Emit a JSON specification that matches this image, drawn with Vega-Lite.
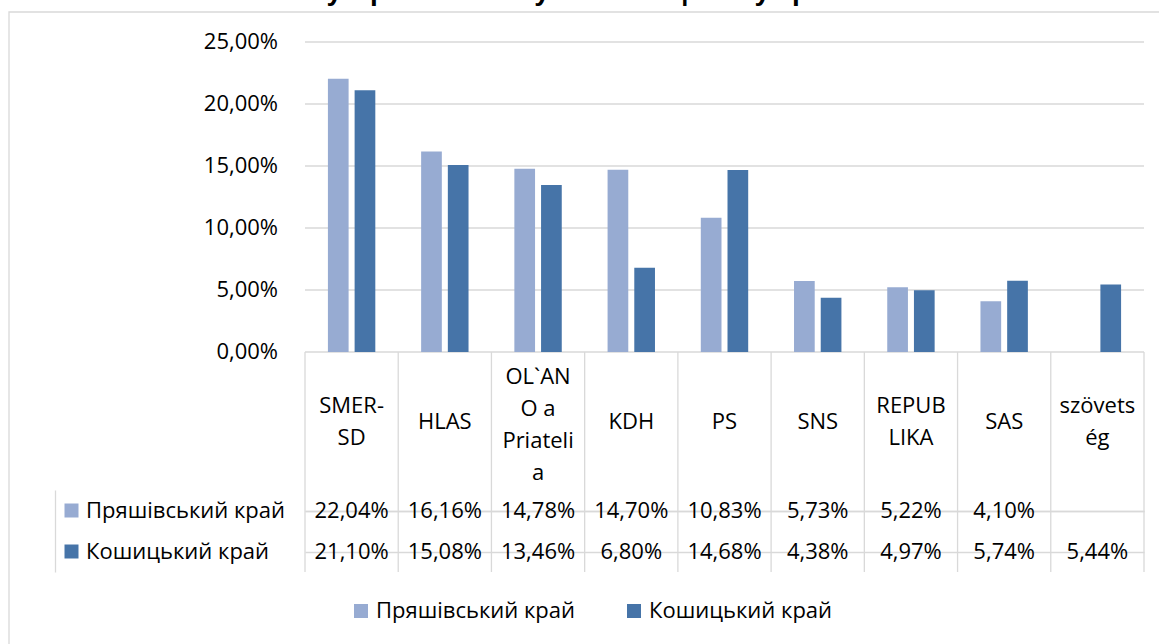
{
  "$schema": "https://vega.github.io/schema/vega-lite/v6.json",
  "width": 1089,
  "height": 220,
  "autosize": {"type": "none"},
  "padding": {"left": 55, "top": 352, "right": 15, "bottom": 72},
  "background": "white",
  "config": {
    "view": {"stroke": null},
    "font": "Open Sans",
    "locale": {"number": {"decimal": ",", "thousands": " ", "grouping": [3], "currency": ["", ""]}},
    "axisX": {
      "orient": "top", "title": null, "domain": false, "ticks": false, "tickSize": 0,
      "labelBaseline": "middle", "labelAlign": "center", "labelAngle": 0,
      "labelFont": "Open Sans", "labelFontSize": 22, "labelColor": "#000000", "labelLineHeight": 32,
      "labelLimit": 0, "labelOverlap": false, "labelBound": false, "grid": false
    }
  },
  "title": {
    "text": "у Пряшівському та Кошицькому краях",
    "font": "Liberation Sans",
    "fontWeight": "bold",
    "fontSize": 28,
    "color": "#000000",
    "anchor": "middle",
    "frame": "group",
    "baseline": "alphabetic",
    "offset": -17,
    "dx": -8
  },
  "datasets": {
    "votes": [
      {"party": "SMER-SD", "series": "Пряшівський край", "value": 0.2204},
      {"party": "HLAS", "series": "Пряшівський край", "value": 0.1616},
      {"party": "OL`ANO a Priatelia", "series": "Пряшівський край", "value": 0.1478},
      {"party": "KDH", "series": "Пряшівський край", "value": 0.1470},
      {"party": "PS", "series": "Пряшівський край", "value": 0.1083},
      {"party": "SNS", "series": "Пряшівський край", "value": 0.0573},
      {"party": "REPUBLIKA", "series": "Пряшівський край", "value": 0.0522},
      {"party": "SAS", "series": "Пряшівський край", "value": 0.0410},
      {"party": "SMER-SD", "series": "Кошицький край", "value": 0.2110},
      {"party": "HLAS", "series": "Кошицький край", "value": 0.1508},
      {"party": "OL`ANO a Priatelia", "series": "Кошицький край", "value": 0.1346},
      {"party": "KDH", "series": "Кошицький край", "value": 0.0680},
      {"party": "PS", "series": "Кошицький край", "value": 0.1468},
      {"party": "SNS", "series": "Кошицький край", "value": 0.0438},
      {"party": "REPUBLIKA", "series": "Кошицький край", "value": 0.0497},
      {"party": "SAS", "series": "Кошицький край", "value": 0.0574},
      {"party": "szövetség", "series": "Кошицький край", "value": 0.0544}
    ],
    "ticks": [{"v": 0}, {"v": 0.05}, {"v": 0.1}, {"v": 0.15}, {"v": 0.2}, {"v": 0.25}],
    "seriesList": [{"series": "Пряшівський край"}, {"series": "Кошицький край"}],
    "parties": [{"party": "SMER-SD"}, {"party": "HLAS"}, {"party": "OL`ANO a Priatelia"}, {"party": "KDH"}, {"party": "PS"}, {"party": "SNS"}, {"party": "REPUBLIKA"}, {"party": "SAS"}, {"party": "szövetség"}]
  },
  "layer": [
    {
      "layer": [
        {
          "data": {"values": [{"frame": "chart area"}]},
          "mark": {"type": "rect", "filled": false, "fill": null, "stroke": "#d9d9d9", "strokeWidth": 1.3,
                   "xOffset": -296, "x2Offset": 30, "yOffset": -30, "y2Offset": 310},
          "encoding": {
            "x": {"datum": "SMER-SD", "type": "nominal", "bandPosition": 0,
                  "axis": {"labelExpr": "datum.value == 'SMER-SD' ? ['SMER-', 'SD'] : datum.value == 'OL`ANO a Priatelia' ? ['OL`AN', 'O a', 'Priateli', 'a'] : datum.value == 'REPUBLIKA' ? ['REPUB', 'LIKA'] : datum.value == 'szövetség' ? ['szövets', 'ég'] : datum.label",
                           "labelPadding": {"condition": [{"test": "datum.value == 'OL`ANO a Priatelia'", "value": -24}, {"test": "datum.value == 'SMER-SD' || datum.value == 'REPUBLIKA' || datum.value == 'szövetség'", "value": -53}], "value": -69}},
                  "scale": {"domain": ["SMER-SD", "HLAS", "OL`ANO a Priatelia", "KDH", "PS", "SNS", "REPUBLIKA", "SAS", "szövetség"], "range": [250, 1089], "paddingInner": 0, "paddingOuter": 0}},
            "x2": {"datum": "szövetség", "bandPosition": 1},
            "y": {"datum": 0.25, "type": "quantitative", "axis": null,
                  "scale": {"domain": [0, 0.25], "range": [0, -310], "nice": false, "zero": true}},
            "y2": {"datum": 0}
          }
        },
        {
          "data": {"name": "ticks"},
          "mark": {"type": "rule", "color": "#d9d9d9", "strokeWidth": 1.3},
          "encoding": {
            "x": {"datum": "SMER-SD", "type": "nominal", "bandPosition": 0,
                  "axis": {"labelExpr": "datum.value == 'SMER-SD' ? ['SMER-', 'SD'] : datum.value == 'OL`ANO a Priatelia' ? ['OL`AN', 'O a', 'Priateli', 'a'] : datum.value == 'REPUBLIKA' ? ['REPUB', 'LIKA'] : datum.value == 'szövetség' ? ['szövets', 'ég'] : datum.label",
                           "labelPadding": {"condition": [{"test": "datum.value == 'OL`ANO a Priatelia'", "value": -24}, {"test": "datum.value == 'SMER-SD' || datum.value == 'REPUBLIKA' || datum.value == 'szövetség'", "value": -53}], "value": -69}},
                  "scale": {"domain": ["SMER-SD", "HLAS", "OL`ANO a Priatelia", "KDH", "PS", "SNS", "REPUBLIKA", "SAS", "szövetség"], "range": [250, 1089], "paddingInner": 0, "paddingOuter": 0}},
            "x2": {"datum": "szövetség", "bandPosition": 1},
            "y": {"field": "v", "type": "quantitative", "axis": null,
                  "scale": {"domain": [0, 0.25], "range": [0, -310], "nice": false, "zero": true}}
          }
        },
        {
          "data": {"name": "parties"},
          "mark": {"type": "rule", "color": "#d9d9d9", "strokeWidth": 1.3},
          "encoding": {
            "x": {"field": "party", "type": "nominal", "bandPosition": 0,
                  "axis": {"labelExpr": "datum.value == 'SMER-SD' ? ['SMER-', 'SD'] : datum.value == 'OL`ANO a Priatelia' ? ['OL`AN', 'O a', 'Priateli', 'a'] : datum.value == 'REPUBLIKA' ? ['REPUB', 'LIKA'] : datum.value == 'szövetség' ? ['szövets', 'ég'] : datum.label",
                           "labelPadding": {"condition": [{"test": "datum.value == 'OL`ANO a Priatelia'", "value": -24}, {"test": "datum.value == 'SMER-SD' || datum.value == 'REPUBLIKA' || datum.value == 'szövetség'", "value": -53}], "value": -69}},
                  "scale": {"domain": ["SMER-SD", "HLAS", "OL`ANO a Priatelia", "KDH", "PS", "SNS", "REPUBLIKA", "SAS", "szövetség"], "range": [250, 1089], "paddingInner": 0, "paddingOuter": 0}}
          }
        },
        {
          "data": {"name": "parties"},
          "transform": [{"filter": "datum.party == 'szövetség'"}],
          "mark": {"type": "rule", "color": "#d9d9d9", "strokeWidth": 1.3},
          "encoding": {
            "x": {"field": "party", "type": "nominal", "bandPosition": 1,
                  "axis": {"labelExpr": "datum.value == 'SMER-SD' ? ['SMER-', 'SD'] : datum.value == 'OL`ANO a Priatelia' ? ['OL`AN', 'O a', 'Priateli', 'a'] : datum.value == 'REPUBLIKA' ? ['REPUB', 'LIKA'] : datum.value == 'szövetség' ? ['szövets', 'ég'] : datum.label",
                           "labelPadding": {"condition": [{"test": "datum.value == 'OL`ANO a Priatelia'", "value": -24}, {"test": "datum.value == 'SMER-SD' || datum.value == 'REPUBLIKA' || datum.value == 'szövetség'", "value": -53}], "value": -69}},
                  "scale": {"domain": ["SMER-SD", "HLAS", "OL`ANO a Priatelia", "KDH", "PS", "SNS", "REPUBLIKA", "SAS", "szövetség"], "range": [250, 1089], "paddingInner": 0, "paddingOuter": 0}}
          }
        },
        {
          "data": {"name": "votes"},
          "mark": {"type": "bar"},
          "encoding": {
            "x": {"field": "party", "type": "nominal",
                  "scale": {"domain": ["SMER-SD", "HLAS", "OL`ANO a Priatelia", "KDH", "PS", "SNS", "REPUBLIKA", "SAS", "szövetség"], "range": [250, 1089], "paddingInner": 0, "paddingOuter": 0},
                  "axis": {"labelExpr": "datum.value == 'SMER-SD' ? ['SMER-', 'SD'] : datum.value == 'OL`ANO a Priatelia' ? ['OL`AN', 'O a', 'Priateli', 'a'] : datum.value == 'REPUBLIKA' ? ['REPUB', 'LIKA'] : datum.value == 'szövetség' ? ['szövets', 'ég'] : datum.label",
                           "labelPadding": {"condition": [{"test": "datum.value == 'OL`ANO a Priatelia'", "value": -24}, {"test": "datum.value == 'SMER-SD' || datum.value == 'REPUBLIKA' || datum.value == 'szövetség'", "value": -53}], "value": -69}}},
            "xOffset": {"field": "series", "type": "nominal",
                        "scale": {"domain": ["Пряшівський край", "Кошицький край"], "paddingInner": 0.225, "paddingOuter": 0.858}},
            "y": {"field": "value", "type": "quantitative", "axis": null,
                  "scale": {"domain": [0, 0.25], "range": [0, -310], "nice": false, "zero": true}},
            "color": {"field": "series", "type": "nominal",
                      "scale": {"domain": ["Пряшівський край", "Кошицький край"], "range": ["#97abd2", "#4674a8"]},
                      "legend": {
                        "title": null, "orient": "none", "direction": "horizontal", "legendX": 295, "legendY": 248,
                        "symbolType": "square", "symbolSize": 196, "symbolStrokeWidth": 0, "symbolOpacity": 1,
                        "labelFont": "Open Sans", "labelFontSize": 22, "labelColor": "#000000", "labelOffset": 4,
                        "columnPadding": 47, "labelLimit": 0
                      }}
          }
        },
        {
          "data": {"name": "ticks"},
          "mark": {"type": "text", "align": "right", "baseline": "middle", "dx": -27, "fontSize": 22, "font": "Open Sans", "color": "#000000"},
          "encoding": {
            "x": {"datum": "SMER-SD", "type": "nominal", "bandPosition": 0,
                  "axis": {"labelExpr": "datum.value == 'SMER-SD' ? ['SMER-', 'SD'] : datum.value == 'OL`ANO a Priatelia' ? ['OL`AN', 'O a', 'Priateli', 'a'] : datum.value == 'REPUBLIKA' ? ['REPUB', 'LIKA'] : datum.value == 'szövetség' ? ['szövets', 'ég'] : datum.label",
                           "labelPadding": {"condition": [{"test": "datum.value == 'OL`ANO a Priatelia'", "value": -24}, {"test": "datum.value == 'SMER-SD' || datum.value == 'REPUBLIKA' || datum.value == 'szövetség'", "value": -53}], "value": -69}},
                  "scale": {"domain": ["SMER-SD", "HLAS", "OL`ANO a Priatelia", "KDH", "PS", "SNS", "REPUBLIKA", "SAS", "szövetség"], "range": [250, 1089], "paddingInner": 0, "paddingOuter": 0}},
            "y": {"field": "v", "type": "quantitative", "axis": null,
                  "scale": {"domain": [0, 0.25], "range": [0, -310], "nice": false, "zero": true}},
            "text": {"field": "v", "type": "quantitative", "format": ".2%"}
          }
        }
      ]
    },
    {
      "encoding": {
        "y": {"field": "series", "type": "nominal",
              "scale": {"domain": ["Пряшівський край", "Кошицький край"], "range": [138, 220], "paddingInner": 0, "paddingOuter": 0},
              "axis": {"orient": "left", "title": null, "labels": false, "ticks": false, "domain": true, "domainColor": "#d9d9d9", "domainWidth": 1.3,
                       "grid": true, "gridColor": "#d9d9d9", "gridWidth": 1.3, "bandPosition": 1, "tickExtra": true}}
      },
      "layer": [
        {
          "data": {"name": "votes"},
          "mark": {"type": "text", "align": "center", "baseline": "middle", "fontSize": 22, "font": "Open Sans", "color": "#000000"},
          "encoding": {
            "x": {"field": "party", "type": "nominal",
                  "axis": {"labelExpr": "datum.value == 'SMER-SD' ? ['SMER-', 'SD'] : datum.value == 'OL`ANO a Priatelia' ? ['OL`AN', 'O a', 'Priateli', 'a'] : datum.value == 'REPUBLIKA' ? ['REPUB', 'LIKA'] : datum.value == 'szövetség' ? ['szövets', 'ég'] : datum.label",
                           "labelPadding": {"condition": [{"test": "datum.value == 'OL`ANO a Priatelia'", "value": -24}, {"test": "datum.value == 'SMER-SD' || datum.value == 'REPUBLIKA' || datum.value == 'szövetség'", "value": -53}], "value": -69}},
                  "scale": {"domain": ["SMER-SD", "HLAS", "OL`ANO a Priatelia", "KDH", "PS", "SNS", "REPUBLIKA", "SAS", "szövetség"], "range": [250, 1089], "paddingInner": 0, "paddingOuter": 0}},
            "text": {"field": "value", "type": "quantitative", "format": ".2%"}
          }
        },
        {
          "data": {"name": "seriesList"},
          "mark": {"type": "point", "shape": "square", "size": 196, "filled": true, "opacity": 1, "strokeWidth": 0, "xOffset": -233.5},
          "encoding": {
            "x": {"datum": "SMER-SD", "type": "nominal", "bandPosition": 0,
                  "axis": {"labelExpr": "datum.value == 'SMER-SD' ? ['SMER-', 'SD'] : datum.value == 'OL`ANO a Priatelia' ? ['OL`AN', 'O a', 'Priateli', 'a'] : datum.value == 'REPUBLIKA' ? ['REPUB', 'LIKA'] : datum.value == 'szövetség' ? ['szövets', 'ég'] : datum.label",
                           "labelPadding": {"condition": [{"test": "datum.value == 'OL`ANO a Priatelia'", "value": -24}, {"test": "datum.value == 'SMER-SD' || datum.value == 'REPUBLIKA' || datum.value == 'szövetség'", "value": -53}], "value": -69}},
                  "scale": {"domain": ["SMER-SD", "HLAS", "OL`ANO a Priatelia", "KDH", "PS", "SNS", "REPUBLIKA", "SAS", "szövetség"], "range": [250, 1089], "paddingInner": 0, "paddingOuter": 0}},
            "color": {"field": "series", "type": "nominal",
                      "scale": {"domain": ["Пряшівський край", "Кошицький край"], "range": ["#97abd2", "#4674a8"]}}
          }
        },
        {
          "data": {"name": "seriesList"},
          "mark": {"type": "text", "align": "left", "baseline": "middle", "dx": -219, "fontSize": 22, "font": "Open Sans", "color": "#000000"},
          "encoding": {
            "x": {"datum": "SMER-SD", "type": "nominal", "bandPosition": 0,
                  "axis": {"labelExpr": "datum.value == 'SMER-SD' ? ['SMER-', 'SD'] : datum.value == 'OL`ANO a Priatelia' ? ['OL`AN', 'O a', 'Priateli', 'a'] : datum.value == 'REPUBLIKA' ? ['REPUB', 'LIKA'] : datum.value == 'szövetség' ? ['szövets', 'ég'] : datum.label",
                           "labelPadding": {"condition": [{"test": "datum.value == 'OL`ANO a Priatelia'", "value": -24}, {"test": "datum.value == 'SMER-SD' || datum.value == 'REPUBLIKA' || datum.value == 'szövetség'", "value": -53}], "value": -69}},
                  "scale": {"domain": ["SMER-SD", "HLAS", "OL`ANO a Priatelia", "KDH", "PS", "SNS", "REPUBLIKA", "SAS", "szövetség"], "range": [250, 1089], "paddingInner": 0, "paddingOuter": 0}},
            "text": {"field": "series", "type": "nominal"}
          }
        }
      ]
    }
  ],
  "resolve": {"scale": {"y": "independent"}}
}
